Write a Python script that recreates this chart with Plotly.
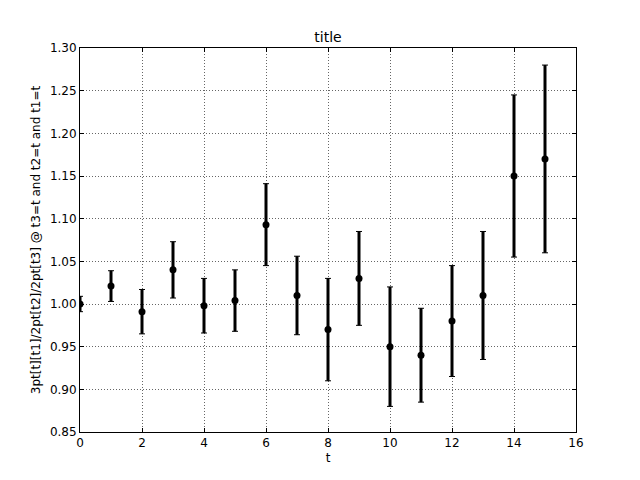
import plotly.graph_objects as go

t = list(range(16))
values = [1.000, 1.021, 0.991, 1.040, 0.998, 1.004, 1.093, 1.010,
          0.970, 1.030, 0.950, 0.940, 0.980, 1.010, 1.150, 1.170]
errors = [0.009, 0.018, 0.026, 0.033, 0.032, 0.036, 0.048, 0.046,
          0.060, 0.055, 0.070, 0.055, 0.065, 0.075, 0.095, 0.110]
x_ticks = [0, 2, 4, 6, 8, 10, 12, 14, 16]
y_ticks = [0.85, 0.90, 0.95, 1.00, 1.05, 1.10, 1.15, 1.20, 1.25, 1.30]

fig = go.Figure()
# thin caps
fig.add_trace(go.Scatter(
    x=t, y=values, mode="markers",
    marker=dict(color="black", size=1, opacity=0),
    error_y=dict(type="data", array=errors, visible=True, color="black",
                 thickness=1, width=3),
    cliponaxis=True, hoverinfo="skip",
))
# thick stems + markers
fig.add_trace(go.Scatter(
    x=t, y=values, mode="markers",
    marker=dict(color="black", size=7),
    error_y=dict(type="data", array=errors, visible=True, color="black",
                 thickness=3, width=0),
    cliponaxis=True,
))

font = dict(family="DejaVu Sans", size=12, color="black")
axis_common = dict(
    showline=True, linecolor="black", linewidth=1, mirror="ticks",
    ticks="inside", ticklen=4, tickcolor="black",
    showgrid=True, gridcolor="rgba(0,0,0,0.6)", griddash="1px,2px", gridwidth=1,
    zeroline=False, tickfont=font, automargin=False,
)
# page body adds an 8px offset; margins compensate
fig.update_layout(
    width=640, height=480,
    margin=dict(l=72, r=72, t=40, b=56),
    paper_bgcolor="white", plot_bgcolor="white",
    showlegend=False,
    font=font,
    title=dict(text="title", x=(328 - 8) / 640, xanchor="center", y=1 - 29 / 480,
               yanchor="middle", font=dict(family="DejaVu Sans", size=14)),
    xaxis=dict(range=[0, 16], tickvals=x_ticks, ticktext=[str(v) for v in x_ticks],
               title=dict(text="t", font=font, standoff=4), **axis_common),
    yaxis=dict(range=[0.85, 1.30], tickvals=y_ticks,
               ticktext=[f"{v:.2f}" for v in y_ticks],
               title=dict(text="3pt[t][t1]/2pt[t2]/2pt[t3] @ t3=t and t2=t and t1=t",
                          font=font, standoff=6), **axis_common),
)
fig.write_html("out.html")
